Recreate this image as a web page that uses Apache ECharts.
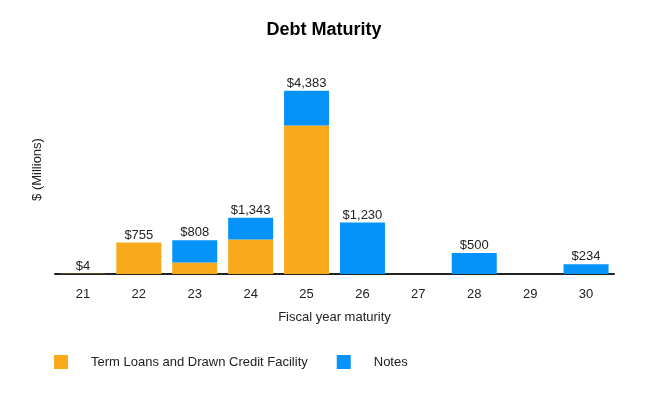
<!DOCTYPE html>
<html>
<head>
<meta charset="utf-8">
<script src="https://cdn.jsdelivr.net/npm/echarts@6/dist/echarts.min.js"></script>
<style>
  html, body { margin: 0; padding: 0; background: #fff; }
  #chart { width: 648px; height: 398px; }
</style>
</head>
<body>
<div id="chart"></div>
<script>
// 数据
var years = ["21", "22", "23", "24", "25", "26", "27", "28", "29", "30"];
var termLoans = [4, 755, 275, 823, 3550, 0, 0, 0, 0, 0];
var notes = [0, 0, 533, 520, 833, 1230, 0, 500, 0, 234];
var totals = [4, 755, 808, 1343, 4383, 1230, null, 500, null, 234];

var font = "Liberation Sans, Arial, sans-serif";

var chart = echarts.init(document.getElementById("chart"));

option = {
  animation: false,
  title: {
    text: "Debt Maturity",
    left: "center",
    top: 16,
    textStyle: { fontFamily: font, fontSize: 18, fontWeight: "bold", color: "#000" },
  },
  legend: {
    data: ["Term Loans and Drawn Credit Facility", "Notes"],
    left: 49,
    top: 350,
    itemWidth: 14,
    itemHeight: 14,
    itemGap: 29,
    icon: "rect",
    textStyle: { fontFamily: font, fontSize: 13, color: "#222", padding: [0, 0, 0, 18] },
  },
  grid: { left: 55, right: 34, top: 65, bottom: 124 },
  xAxis: {
    type: "category",
    data: years,
    axisLine: { lineStyle: { color: "#222", width: 2 } },
    axisTick: { show: false },
    axisLabel: { fontFamily: font, fontSize: 13, color: "#222", margin: 14 },
    name: "Fiscal year maturity",
    nameLocation: "middle",
    nameGap: 37,
    nameTextStyle: { fontFamily: font, fontSize: 13, color: "#222" },
  },
  yAxis: {
    type: "value",
    min: 0,
    max: 5000,
    axisLine: { show: false },
    axisTick: { show: false },
    axisLabel: { show: false },
    splitLine: { show: false },
    name: "$ (Millions)",
    nameLocation: "middle",
    nameGap: 11,
    nameRotate: 90,
    nameTextStyle: { fontFamily: font, fontSize: 13, color: "#222" },
  },
  series: [
    {
      name: "Term Loans and Drawn Credit Facility",
      type: "bar",
      stack: "debt",
      barWidth: 45,
      itemStyle: { color: "#F9AA1B" },
      data: termLoans,
    },
    {
      name: "Notes",
      type: "bar",
      stack: "debt",
      itemStyle: { color: "#0693F9" },
      data: notes,
    },
    {
      // 总额标签
      name: "total",
      type: "bar",
      stack: "debt",
      itemStyle: { color: "transparent" },
      data: totals.map(function (t) { return t == null ? null : 0; }),
      label: {
        show: true,
        position: "top",
        distance: 1,
        fontFamily: font,
        fontSize: 13,
        color: "#222",
        formatter: function (p) {
          var t = totals[p.dataIndex];
          return t == null ? "" : "$" + t.toLocaleString("en-US");
        },
      },
    },
  ],
};
chart.setOption(option);
</script>
</body>
</html>
